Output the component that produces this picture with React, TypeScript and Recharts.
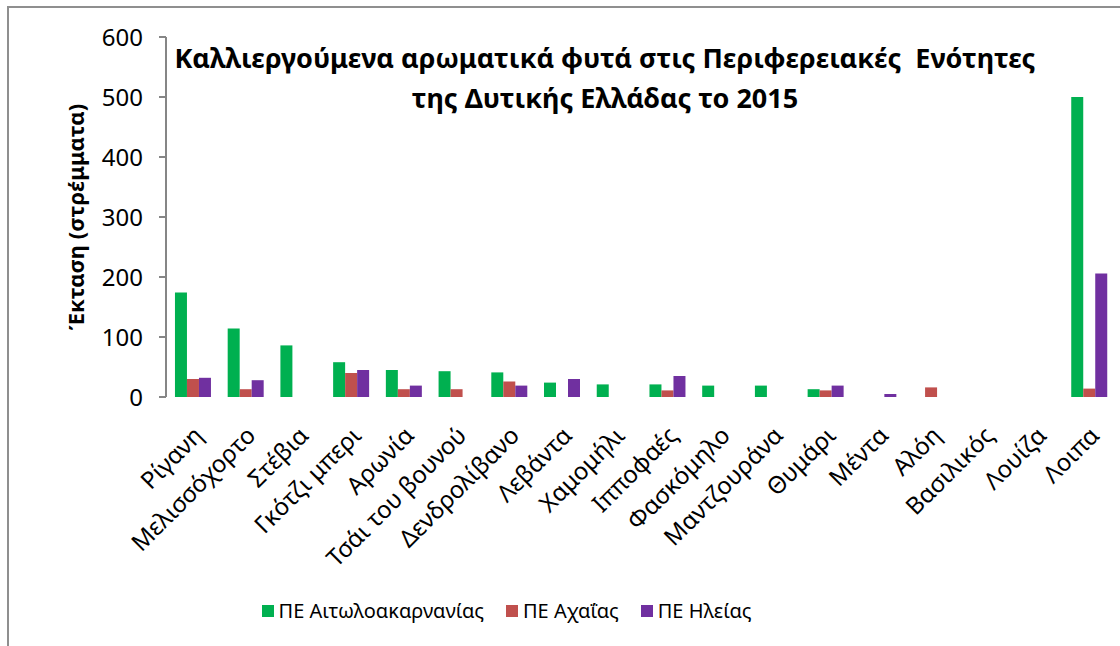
import { BarChart, Bar, XAxis, YAxis, Legend } from 'recharts';

const categories = [
  'Ρίγανη',
  'Μελισσόχορτο',
  'Στέβια',
  'Γκότζι μπερι',
  'Αρωνία',
  'Τσάι του βουνού',
  'Δενδρολίβανο',
  'Λεβάντα',
  'Χαμομήλι',
  'Ιπποφαές',
  'Φασκόμηλο',
  'Μαντζουράνα',
  'Θυμάρι',
  'Μέντα',
  'Αλόη',
  'Βασιλικός',
  'Λουίζα',
  'Λοιπα',
];

// στρέμματα ανά Περιφερειακή Ενότητα
const aitoloakarnania = [174, 114, 86, 58, 45, 43, 41, 24, 21, 21, 19, 19, 13, 0, 0, 0, 0, 500];
const achaia = [30, 13, 0, 40, 13, 13, 26, 0, 0, 11, 0, 0, 11, 0, 16, 0, 0, 14];
const ileia = [32, 28, 0, 45, 19, 0, 19, 30, 0, 35, 0, 0, 19, 5, 0, 0, 0, 206];

const yTicks = [0, 100, 200, 300, 400, 500, 600];

const FONT = '"Noto Sans", "DejaVu Sans", sans-serif';
const AXIS_GREY = '#868686';

const data = categories.map((name, i) => ({
  name,
  pos: i + 0.5,
  aitoloakarnania: aitoloakarnania[i],
  achaia: achaia[i],
  ileia: ileia[i],
}));

// tick marks sit between the categories, like in the original spreadsheet chart
const boundaries = [...categories.map((_, i) => i), categories.length];

function LegendContent({ payload }: any) {
  return (
    <div
      style={{
        display: 'flex',
        justifyContent: 'center',
        paddingRight: 102,
        fontSize: 20,
        fontFamily: FONT,
        color: '#000',
        lineHeight: '26px',
      }}
    >
      {(payload || []).map((item: any, i: number) => (
        <div key={item.value} style={{ display: 'flex', alignItems: 'center', marginLeft: i === 0 ? 0 : 22 }}>
          <span style={{ width: 12, height: 12, background: item.color, marginRight: 5, display: 'inline-block' }} />
          <span>{item.value}</span>
        </div>
      ))}
    </div>
  );
}

export default function App() {
  return (
    <div
      style={{
        position: 'absolute',
        left: 0,
        top: 0,
        width: 1120,
        height: 646,
        overflow: 'hidden',
        background: '#fff',
        fontFamily: FONT,
      }}
    >
      <div
        style={{
          position: 'absolute',
          left: 7,
          top: 6,
          width: 1200,
          height: 700,
          borderTop: '2px solid #8f8f8f',
          borderLeft: '2px solid #8f8f8f',
        }}
      />
      <BarChart
        width={1120}
        height={646}
        data={data}
        margin={{ top: 37, right: 5, bottom: 22, left: 0 }}
        barCategoryGap="17%"
        barGap={0}
      >
        <XAxis
          xAxisId="bnd"
          type="number"
          dataKey="pos"
          domain={[0, categories.length]}
          ticks={boundaries}
          interval={0}
          height={0}
          tickFormatter={() => ''}
          axisLine={{ stroke: AXIS_GREY, strokeWidth: 2 }}
          tickLine={{ stroke: AXIS_GREY, strokeWidth: 2 }}
          tickSize={7}
        />
        <XAxis
          xAxisId="cat"
          dataKey="name"
          interval={0}
          height={201}
          angle={-45}
          textAnchor="end"
          axisLine={false}
          tickLine={false}
          tickSize={0}
          tickMargin={28}
          tick={{ fill: '#000', fontSize: 24, fontFamily: FONT }}
        />
        <YAxis
          domain={[0, 600]}
          ticks={yTicks}
          width={166}
          axisLine={{ stroke: AXIS_GREY, strokeWidth: 2 }}
          tickLine={{ stroke: AXIS_GREY, strokeWidth: 2 }}
          tickSize={7}
          tickMargin={16}
          tick={{ fill: '#000', fontSize: 24, fontFamily: FONT }}
        />
        <Legend verticalAlign="bottom" align="center" content={<LegendContent />} />
        <Bar xAxisId="cat" dataKey="aitoloakarnania" name="ΠΕ Αιτωλοακαρνανίας" fill="#00B050" isAnimationActive={false} />
        <Bar xAxisId="cat" dataKey="achaia" name="ΠΕ Αχαΐας" fill="#C0504D" isAnimationActive={false} />
        <Bar xAxisId="cat" dataKey="ileia" name="ΠΕ Ηλείας" fill="#7030A0" isAnimationActive={false} />
      </BarChart>
      <div
        style={{
          position: 'absolute',
          left: 150,
          top: 38,
          width: 910,
          textAlign: 'center',
          fontWeight: 'bold',
          fontSize: 27,
          lineHeight: '40px',
          color: '#000',
        }}
      >
        Καλλιεργούμενα αρωματικά φυτά στις Περιφερειακές&nbsp; Ενότητες
        <br />
        της Δυτικής Ελλάδας το 2015
      </div>
      <div
        style={{
          position: 'absolute',
          left: 75,
          top: 217,
          transform: 'translate(-50%, -50%) rotate(-90deg)',
          whiteSpace: 'nowrap',
          fontWeight: 'bold',
          fontSize: 22,
          color: '#000',
        }}
      >
        Έκταση (στρέμματα)
      </div>
    </div>
  );
}
